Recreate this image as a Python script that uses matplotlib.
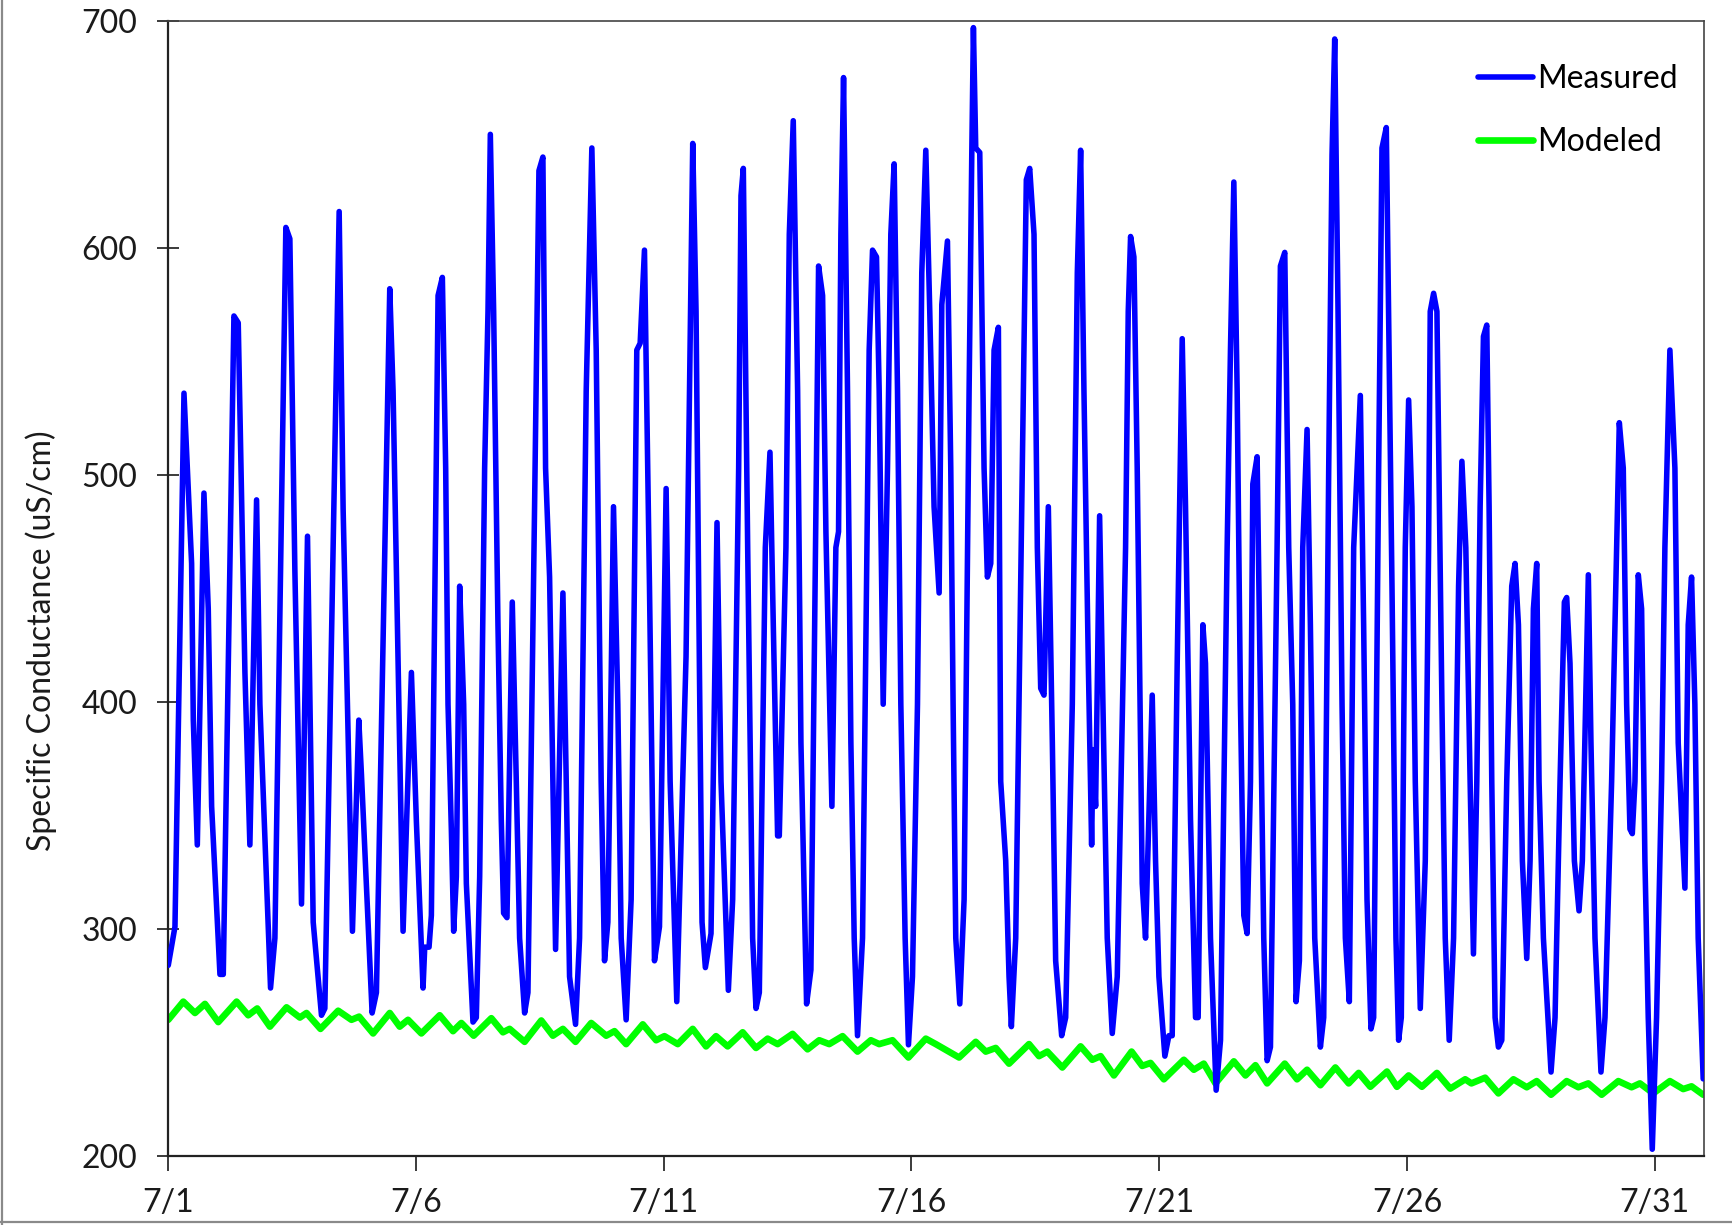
import matplotlib.pyplot as plt
from matplotlib.lines import Line2D

plt.rcParams['font.family'] = ['Lato', 'DejaVu Sans']

# time in days after 7/1 00:00, specific conductance in uS/cm
measured_day = [
    0.00, 0.135, 0.317, 0.471, 0.505, 0.586, 0.72, 0.807, 0.875, 1.043,
    1.11, 1.325, 1.412, 1.547, 1.647, 1.782, 1.849, 2.064, 2.152, 2.373,
    2.454, 2.555, 2.689, 2.81, 2.925, 3.092, 3.16, 3.449, 3.529, 3.717,
    3.845, 3.899, 4.114, 4.201, 4.47, 4.537, 4.638, 4.739, 4.907, 5.008,
    5.142, 5.176, 5.263, 5.31, 5.445, 5.532, 5.599, 5.646, 5.713, 5.76,
    5.814, 5.881, 5.962, 6.016, 6.15, 6.217, 6.285, 6.385, 6.453, 6.5,
    6.567, 6.654, 6.721, 6.768, 6.836, 6.943, 7.024, 7.091, 7.192, 7.259,
    7.393, 7.481, 7.561, 7.615, 7.696, 7.817, 7.965, 8.032, 8.099, 8.22,
    8.301, 8.435, 8.549, 8.637, 8.737, 8.805, 8.872, 8.986, 9.073, 9.141,
    9.241, 9.342, 9.456, 9.524, 9.611, 9.712, 9.813, 9.914, 10.048, 10.129,
    10.263, 10.45, 10.585, 10.652, 10.719, 10.773, 10.84, 10.954, 11.075, 11.156,
    11.304, 11.391, 11.512, 11.559, 11.606, 11.694, 11.794, 11.862, 11.929, 12.05,
    12.144, 12.211, 12.298, 12.332, 12.466, 12.534, 12.614, 12.702, 12.769, 12.883,
    12.97, 13.071, 13.125, 13.206, 13.273, 13.394, 13.474, 13.528, 13.575, 13.629,
    13.709, 13.777, 13.844, 13.911, 14.012, 14.146, 14.214, 14.294, 14.348, 14.429,
    14.516, 14.583, 14.65, 14.718, 14.785, 14.872, 14.939, 15.02, 15.121, 15.208,
    15.289, 15.369, 15.456, 15.558, 15.612, 15.726, 15.793, 15.84, 15.894, 15.975,
    16.062, 16.163, 16.217, 16.25, 16.297, 16.378, 16.465, 16.532, 16.6, 16.667,
    16.754, 16.801, 16.902, 16.969, 17.016, 17.104, 17.238, 17.318, 17.386, 17.473,
    17.54, 17.608, 17.675, 17.762, 17.843, 17.91, 18.031, 18.112, 18.246, 18.347,
    18.414, 18.481, 18.569, 18.636, 18.663, 18.716, 18.797, 18.864, 18.951, 19.052,
    19.153, 19.321, 19.375, 19.422, 19.489, 19.556, 19.657, 19.724, 19.859, 19.926,
    19.994, 20.114, 20.195, 20.262, 20.363, 20.464, 20.531, 20.632, 20.733, 20.786,
    20.881, 20.934, 21.035, 21.149, 21.237, 21.371, 21.438, 21.506, 21.573, 21.64,
    21.707, 21.774, 21.842, 21.889, 21.976, 22.023, 22.11, 22.178, 22.245, 22.379,
    22.446, 22.534, 22.614, 22.695, 22.762, 22.829, 22.897, 22.984, 23.051, 23.139,
    23.253, 23.32, 23.421, 23.488, 23.542, 23.609, 23.69, 23.757, 23.837, 23.925,
    24.059, 24.126, 24.194, 24.274, 24.328, 24.429, 24.496, 24.583, 24.63, 24.698,
    24.778, 24.832, 24.886, 24.966, 25.034, 25.101, 25.168, 25.269, 25.37, 25.437,
    25.47, 25.538, 25.605, 25.706, 25.773, 25.853, 25.941, 26.042, 26.109, 26.188,
    26.275, 26.342, 26.41, 26.477, 26.544, 26.611, 26.658, 26.712, 26.779, 26.846,
    26.914, 27.014, 27.115, 27.182, 27.25, 27.33, 27.418, 27.485, 27.552, 27.619,
    27.666, 27.754, 27.908, 27.989, 28.09, 28.177, 28.224, 28.291, 28.379, 28.473,
    28.54, 28.661, 28.714, 28.795, 28.916, 28.997, 29.131, 29.198, 29.286, 29.366,
    29.434, 29.501, 29.548, 29.602, 29.669, 29.736, 29.803, 29.87, 29.951, 30.038,
    30.139, 30.206, 30.307, 30.408, 30.475, 30.61, 30.677, 30.744, 30.811, 30.878,
    30.979,
]
measured_sc = [
    284, 301, 536, 461, 392, 337, 492, 441, 354, 280,
    280, 570, 567, 413, 337, 489, 399, 274, 296, 609,
    604, 458, 311, 473, 303, 262, 265, 616, 485, 299,
    392, 368, 263, 272, 582, 537, 417, 299, 413, 347,
    274, 292, 292, 306, 579, 587, 503, 399, 344, 299,
    323, 451, 399, 320, 259, 261, 323, 503, 572, 650,
    572, 434, 348, 307, 305, 444, 365, 296, 263, 272,
    486, 634, 640, 503, 455, 291, 448, 365, 279, 258,
    296, 537, 644, 555, 365, 286, 303, 486, 399, 296,
    260, 313, 555, 558, 599, 451, 286, 301, 494, 365,
    268, 420, 646, 572, 417, 303, 283, 298, 479, 365,
    273, 313, 503, 623, 635, 468, 296, 265, 272, 468,
    510, 434, 341, 341, 468, 606, 656, 537, 382, 267,
    282, 486, 592, 579, 475, 354, 468, 475, 606, 675,
    537, 382, 296, 253, 296, 555, 599, 596, 537, 399,
    503, 606, 637, 537, 399, 296, 249, 279, 399, 589,
    643, 572, 486, 448, 575, 603, 503, 399, 296, 267,
    313, 537, 641, 697, 644, 642, 503, 455, 461, 555,
    565, 365, 330, 279, 257, 296, 503, 630, 635, 606,
    468, 406, 403, 486, 382, 286, 253, 261, 399, 589,
    643, 537, 417, 337, 379, 354, 482, 399, 296, 254,
    279, 468, 572, 605, 596, 503, 320, 296, 403, 330,
    279, 244, 253, 253, 417, 560, 486, 348, 261, 261,
    434, 417, 296, 229, 251, 468, 555, 629, 537, 399,
    306, 298, 365, 496, 508, 434, 296, 242, 248, 468,
    592, 598, 468, 399, 268, 286, 468, 520, 434, 296,
    248, 261, 503, 641, 692, 572, 399, 296, 268, 468,
    535, 434, 313, 256, 261, 503, 644, 653, 572, 451,
    296, 251, 261, 468, 533, 486, 365, 265, 330, 468,
    572, 580, 572, 399, 296, 251, 296, 451, 506, 468,
    365, 289, 365, 486, 561, 566, 486, 365, 261, 248,
    251, 365, 451, 461, 434, 330, 287, 330, 441, 461,
    365, 296, 237, 261, 365, 444, 446, 417, 330, 308,
    330, 456, 382, 296, 237, 261, 365, 434, 523, 503,
    399, 344, 342, 365, 456, 441, 330, 261, 203, 261,
    365, 468, 555, 503, 382, 318, 434, 455, 399, 296,
    234,
]

modeled_day = [
    0.0, 0.303, 0.539, 0.74, 1.009, 1.379, 1.614, 1.795, 2.051, 2.387,
    2.656, 2.79, 3.072, 3.429, 3.697, 3.852, 4.134, 4.47, 4.671, 4.839,
    5.108, 5.478, 5.747, 5.915, 6.164, 6.52, 6.755, 6.889, 7.192, 7.528,
    7.763, 7.965, 8.22, 8.536, 8.838, 9.006, 9.241, 9.577, 9.846, 10.014,
    10.283, 10.585, 10.854, 11.055, 11.29, 11.593, 11.862, 12.097, 12.298, 12.6,
    12.903, 13.138, 13.34, 13.609, 13.911, 14.18, 14.348, 14.617, 14.939, 15.289,
    15.491, 15.961, 16.297, 16.499, 16.7, 16.969, 17.372, 17.574, 17.742, 18.044,
    18.414, 18.649, 18.817, 19.086, 19.442, 19.657, 19.825, 20.094, 20.497, 20.699,
    20.9, 21.136, 21.506, 21.741, 21.942, 22.178, 22.534, 22.782, 22.984, 23.253,
    23.555, 23.824, 24.026, 24.261, 24.597, 24.798, 25.034, 25.302, 25.605, 25.874,
    26.176, 26.3, 26.578, 26.846, 27.149, 27.418, 27.619, 27.908, 28.224, 28.459,
    28.661, 28.93, 29.266, 29.534, 29.702, 29.971, 30.307, 30.576, 30.744, 30.979,
]
modeled_sc = [
    260, 268, 263, 267, 259, 268, 262, 265, 257, 265.5,
    261, 263, 256, 264, 260, 261.4, 254, 263, 257, 260,
    254, 262, 255, 258.6, 253, 260.7, 254.5, 256, 250.3, 259.7,
    253, 256, 250.3, 258.6, 253, 255, 249.3, 258, 251, 252.8,
    249.3, 256, 248.3, 252.8, 248.3, 254.5, 247.6, 251.7, 249.3, 253.8,
    247, 251, 249.3, 252.8, 246, 251, 249.3, 251, 243.4, 251.7,
    249.3, 243.4, 250.3, 246, 247.6, 240.7, 249.3, 244, 246, 239,
    248.3, 242.4, 244, 235.5, 246, 239.7, 241, 233.8, 242.4, 238,
    240.7, 232, 241.7, 235.5, 240, 232, 240.7, 233.8, 238, 231.2,
    239, 232, 236.6, 230.5, 237.2, 230.5, 235.5, 230.5, 236.6, 229.7,
    233.8, 232, 234.5, 227.6, 233.8, 230.3, 233, 227, 233, 230.3,
    232, 227, 233, 230.3, 232, 227.6, 233, 229.5, 230.7, 227,
]

tick_days = [0, 5, 10, 15, 20, 25, 30]
tick_labels = ["7/1", "7/6", "7/11", "7/16", "7/21", "7/26", "7/31"]

fig = plt.figure(figsize=(17.33, 12.25), dpi=100)
ax = fig.add_axes([0.0971, 0.0563, 0.8863, 0.9267])

ax.plot(measured_day, measured_sc, color="#0000FF", lw=4.0,
        solid_joinstyle="round", solid_capstyle="round",
        label="Measured", zorder=3)
ax.plot(modeled_day, modeled_sc, color="#00FF00", lw=4.8,
        solid_joinstyle="round", solid_capstyle="round",
        label="Modeled", zorder=2)

ax.set_xlim(0, 31)
ax.set_ylim(200, 700)
ax.set_yticks([200, 300, 400, 500, 600, 700])
ax.set_xticks(tick_days)
ax.set_xticklabels(tick_labels)

ax.tick_params(axis="y", direction="inout", length=16.5, width=1.2,
               labelsize=23, pad=14, colors="#1a1a1a")
ax.tick_params(axis="x", direction="out", length=11, width=1.2,
               labelsize=23, pad=12, colors="#1a1a1a")
for side in ["left", "bottom"]:
    ax.spines[side].set_linewidth(1.6)
    ax.spines[side].set_color("#222222")
for side in ["top", "right"]:
    ax.spines[side].set_linewidth(1.2)
    ax.spines[side].set_color("#444444")

fig.text(0.024, 0.477, "Specific Conductance (uS/cm)", rotation=90,
         ha="center", va="center", fontsize=23, color="#1a1a1a")

ax.legend(loc="upper left", bbox_to_anchor=(0.853, 0.962), frameon=False,
          fontsize=23, handlelength=1.7, handletextpad=0.15,
          labelspacing=1.03, borderpad=0, borderaxespad=0)

# thin grey frame seen on the left and bottom of the original picture
fig.add_artist(Line2D([0.0012, 0.0012], [0, 1], transform=fig.transFigure,
                      color="#8a8a8a", lw=1.6))
fig.add_artist(Line2D([0, 1], [0.0022, 0.0022], transform=fig.transFigure,
                      color="#8a8a8a", lw=1.6))

fig.savefig("out.png", dpi=100)
